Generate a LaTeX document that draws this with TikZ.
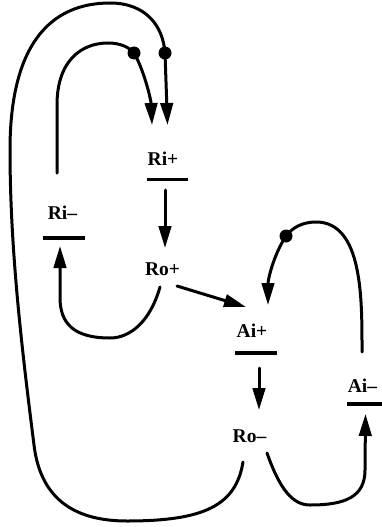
\documentclass[tikz,border=0pt]{standalone}
\usepackage{fontspec}
\setmainfont{Liberation Serif}
\usetikzlibrary{arrows.meta}
\begin{document}
\begin{tikzpicture}[x=1pt,y=-1pt,
  lbl/.style={anchor=base,inner sep=0pt,font=\fontsize{19.5}{20}\selectfont\bfseries},
  conn/.style={line width=3pt,line cap=round},
  arr/.style={conn,-{Triangle[length=22pt,width=12.5pt]}},
  bar/.style={line width=3.2pt},
  dotc/.style={fill=black,draw=none}]
\useasboundingbox (0,0) rectangle (382,527);
% labels
\node[lbl] (rip) at (163,165) {Ri+};
\node[lbl] (rim) at (62.5,219) {Ri--};
\node[lbl] (rop) at (162.5,275) {Ro+};
\node[lbl] (aip) at (252,337) {Ai+};
\node[lbl] (rom) at (249.5,442) {Ro--};
\node[lbl] (aim) at (362.5,392) {Ai--};
% threshold bars
\draw[bar] (147,179.5) -- (188,179.5);
\draw[bar] (43,238) -- (85,238);
\draw[bar] (235,353) -- (277,353);
\draw[bar] (347,404) -- (382,404);
% connector end points
\coordinate (rip-top1) at (152,125);
\coordinate (rip-top2) at (167.5,125);
\coordinate (rip-bot) at (165,190);
\coordinate (rop-top) at (165,248);
\coordinate (rop-bl) at (160,287);
\coordinate (rop-r) at (177,286);
\coordinate (rim-bot) at (60,246);
\coordinate (rim-top) at (57,173);
\coordinate (aip-l) at (246,307);
\coordinate (aip-top) at (268,305);
\coordinate (aip-bot) at (259,368);
\coordinate (rom-top) at (259,410);
\coordinate (rom-bl) at (243,462);
\coordinate (rom-br) at (267,453);
\coordinate (aim-bot) at (365.5,414);
\coordinate (aim-top) at (362,352);
\coordinate (d1) at (134,53);
\coordinate (d2) at (165,53);
\coordinate (d3) at (286,236);
% straight arrows
\draw[arr] (rip-bot) -- (rop-top);
\draw[arr] (rop-r) -- (aip-l);
\draw[arr] (aip-bot) -- (rom-top);
% Ri- -> Ri+ (inner loop)
\draw[arr] (rim-top) -- (57,105) .. controls (57,60) and (82,43) .. (108,43)
  .. controls (120,43) and (129,47) .. (d1)
  .. controls (144,70) and (151,100) .. (rip-top1);
% Ro- -> Ri+ (outer loop)
\draw[arr] (rom-bl) .. controls (236,505) and (205,521) .. (127,521)
  .. controls (70,521) and (40,495) .. (34,445)
  .. controls (22,350) and (10,250) .. (10,150)
  .. controls (10,45) and (50,3) .. (110,3)
  .. controls (145,3) and (163,25) .. (d2)
  -- (rip-top2);
% Ro+ -> Ri-
\draw[arr] (rop-bl) .. controls (150,322) and (130,338) .. (110,338)
  .. controls (72,338) and (61,322) .. (60,300) -- (rim-bot);
% Ai- -> Ai+
\draw[arr] (aim-top) .. controls (362,300) and (363,222) .. (316,222)
  .. controls (302,222) and (292,228) .. (d3)
  .. controls (273,256) and (268,280) .. (aip-top);
% Ro- -> Ai-
\draw[arr] (rom-br) .. controls (280,490) and (293,505) .. (310,505)
  .. controls (345,505) and (365,497) .. (365,470) -- (aim-bot);
% inhibition dots
\fill[dotc] (d1) circle (6.5);
\fill[dotc] (d2) circle (6.5);
\fill[dotc] (d3) circle (6.5);
\end{tikzpicture}
\end{document}
